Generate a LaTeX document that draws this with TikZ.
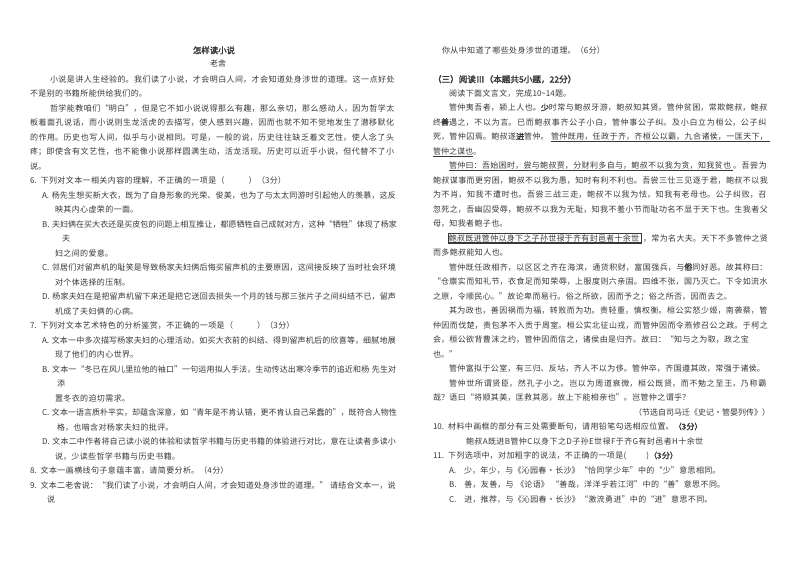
\documentclass[tikz,border=0pt]{standalone}
\usepackage{fontspec}
\setmainfont{Noto Sans CJK SC}[AutoFakeBold=2]
\XeTeXlinebreaklocale "zh"
\XeTeXlinebreakskip=0pt plus 1pt
\newcommand\lfull[4]{\pgfmathsetmacro\tw{397-#2}\node[full,text width=\tw pt] (#1) at (#2,#3) {#4};}
\newcommand\rfull[4]{\pgfmathsetmacro\tw{770-#2}\node[full,text width=\tw pt] (#1) at (#2,#3) {#4};}
\newcommand\lpart[4]{\pgfmathsetmacro\tw{397-#2}\node[part,text width=\tw pt] (#1) at (#2,#3) {#4};}
\newcommand\rpart[4]{\pgfmathsetmacro\tw{770-#2}\node[part,text width=\tw pt] (#1) at (#2,#3) {#4};}

\begin{document}
\begin{tikzpicture}[x=1pt,y=-1pt,
  every node/.style={inner sep=0pt,outer sep=0pt,anchor=base west,text=black!78,font=\fontsize{8}{9.6}\selectfont},
  full/.style={execute at begin node={\parfillskip=0pt\tolerance=10000\XeTeXlinebreakskip=0pt plus 3pt minus .1pt\relax}},
  part/.style={execute at begin node={\tolerance=10000\XeTeXlinebreakskip=.4pt\relax}},
  uline/.style={black!78,line width=.5pt},
  kbox/.style={draw=black!78,line width=.5pt,inner xsep=.8pt,inner ysep=1.3pt}]
\fill[white] (0,0) rectangle (800,565);
\useasboundingbox (0,0) rectangle (800,565);
% text one
\node[anchor=base,font=\fontsize{8.4}{10}\selectfont\bfseries] (title) at (214,53.5) {怎样读小说};
\node[anchor=base] (author) at (218,66.5) {老舍};
\lfull{L1}{50}{82}{小说是讲人生经验的。我们读了小说，才会明白人间，才会知道处身涉世的道理。这一点好处}
\lpart{L2}{30}{96.5}{不是别的书籍所能供给我们的。}
\lfull{L3}{50}{111}{哲学能教咱们“明白”，但是它不如小说说得那么有趣，那么亲切，那么感动人，因为哲学太}
\lfull{L4}{30}{125.5}{板着面孔说话，而小说则生龙活虎的去描写，使人感到兴趣，因而也就不知不觉地发生了潜移默化}
\lfull{L5}{30}{140}{的作用。历史也写人间，似乎与小说相同。可是，一般的说，历史往往缺乏着文艺性，使人念了头}
\lfull{L6}{30}{154.5}{疼；即使含有文艺性，也不能像小说那样圆满生动，活龙活现。历史可以近乎小说，但代替不了小}
\lpart{L7}{30}{169}{说。}
\lpart{L8}{30}{183.5}{6. 下列对文本一相关内容的理解，不正确的一项是（　　　）（3分）}
\lfull{L9}{42}{198}{A. 杨先生想买新大衣，既为了自身形象的光荣、俊美，也为了与太太同游时引起他人的羡慕，这反}
\lpart{L10}{55}{212.5}{映其内心虚荣的一面。}
\lfull{L11}{42}{227}{B. 夫妇俩在买大衣还是买皮包的问题上相互推让，都愿牺牲自己成就对方，这种“牺牲”体现了杨家}
\lpart{L12}{62}{241.5}{夫}
\lpart{L13}{55}{256}{妇之间的爱意。}
\lfull{L14}{42}{270.5}{C. 邻居们对留声机的耻笑是导致杨家夫妇俩后悔买留声机的主要原因，这间接反映了当时社会环境}
\lpart{L15}{55}{285}{对个体选择的压制。}
\lfull{L16}{42}{299.5}{D. 杨家夫妇在是把留声机留下来还是把它送回去损失一个月的钱与那三张片子之间纠结不已，留声}
\lpart{L17}{55}{314}{机成了夫妇俩的心病。}
\lpart{L18}{30}{328.5}{7. 下列对文本艺术特色的分析鉴赏，不正确的一项是（　　　）（3分）}
\lfull{L19}{42}{343}{A. 文本一中多次描写杨家夫妇的心理活动，如买大衣前的纠结、得到留声机后的欣喜等，细腻地展}
\lpart{L20}{55}{357.5}{现了他们的内心世界。}
\lfull{L21}{42}{372}{B. 文本一“冬已在风儿里拉他的袖口”一句运用拟人手法，生动传达出寒冷季节的追近和杨 先生对}
\lpart{L22}{57}{386.5}{添}
\lpart{L23}{55}{401}{置冬衣的迫切需求。}
\lfull{L24}{42}{415.5}{C. 文本一语言质朴平实，却蕴含深意，如“青年是不肯认错，更不肯认自己呆蠢的”，既符合人物性}
\lpart{L25}{57}{430}{格，也暗含对杨家夫妇的批评。}
\lfull{L26}{42}{444.5}{D. 文本二中作者将自己读小说的体验和读哲学书籍与历史书籍的体验进行对比，意在让读者多读小}
\lpart{L27}{55}{459}{说，少读些哲学书籍与历史书籍。}
\lpart{L28}{30}{473.5}{8. 文本一画横线句子意蕴丰富，请简要分析。（4分）}
\lfull{L29}{30}{488}{9. 文本二老舍说：“我们读了小说，才会明白人间，才会知道处身涉世的道理。” 请结合文本一，说}
\lpart{L30}{47}{502.5}{说}
% reading three
\rpart{R0}{442}{53}{你从中知道了哪些处身涉世的道理。（6分）}
\node[font=\fontsize{8.6}{10}\selectfont\bfseries] (R1) at (433,82.5) {（三）阅读Ⅲ（本题共5小题，22分）};
\rpart{R2}{449}{96}{阅读下面文言文，完成10\textasciitilde14题。}
\rfull{R3}{449}{110.5}{管仲夷吾者，颍上人也。\textbf{少}时常与鲍叔牙游，鲍叔知其贤。管仲贫困，常欺鲍叔，鲍叔}
\rfull{R4}{433}{125}{终\textbf{善}遇之，不以为言。已而鲍叔事齐公子小白，管仲事公子纠。及小白立为桓公，公子纠}
\node[full,text width=118pt] (R5a) at (433,139.5) {死，管仲囚焉。鲍叔遂\textbf{进}管仲。};
\node[full,text width=219pt] (R5b) at (551,139.5) {管仲既用，任政于齐，齐桓公以霸，九合诸侯，一匡天下，};
\node (R6a) at (433,154) {管仲之谋也};
\node (R6b) at (R6a.base east) {。};
\node[full,text width=284pt] (R7a) at (449,168.5) {管仲曰：吾始困时，尝与鲍叔贾，分财利多自与，鲍叔不以我为贪，知我贫也};
\node[full,text width=37pt] (R7b) at (733,168.5) {。吾尝为};
\rfull{R8}{433}{183}{鲍叔谋事而更穷困，鲍叔不以我为愚，知时有利不利也。吾尝三仕三见逐于君，鲍叔不以我}
\rfull{R9}{433}{197.5}{为不肖，知我不遭时也。吾尝三战三走，鲍叔不以我为怯，知我有老母也。公子纠败，召}
\rfull{R10}{433}{212}{忽死之，吾幽囚受辱，鲍叔不以我为无耻，知我不羞小节而耻功名不显于天下也。生我者父}
\rpart{R11}{433}{226.5}{母，知我者鲍子也。}
\node[full,kbox,text width=192pt] (R12a) at (448,241) {鲍叔既进管仲以身下之子孙世禄于齐有封邑者十余世};
\node[full,text width=127pt] (R12b) at (643,241) {，常为名大夫。天下不多管仲之贤};
\rpart{R13}{433}{255.5}{而多鲍叔能知人也。}
\rfull{R14}{449}{270}{管仲既任政相齐，以区区之齐在海滨，通货积财，富国强兵，与\textbf{俗}同好恶。故其称曰：}
\rfull{R15}{433}{284.5}{“仓廪实而知礼节，衣食足而知荣辱，上服度则六亲固。四维不张，国乃灭亡。下令如流水}
\rpart{R16}{433}{299}{之原，令顺民心。”故论卑而易行。俗之所欲，因而予之；俗之所否，因而去之。}
\rfull{R17}{449}{313.5}{其为政也，善因祸而为福，转败而为功。贵轻重，慎权衡。桓公实怒少姬，南袭蔡，管}
\rfull{R18}{433}{328}{仲因而伐楚，责包茅不入贡于周室。桓公实北征山戎，而管仲因而令燕修召公之政。于柯之}
\rpart{R19}{433}{342.5}{会，桓公欲背曹沫之约，管仲因而信之，诸侯由是归齐。故曰：“知与之为取，政之宝}
\rpart{R20}{433}{357}{也。”}
\rpart{R21}{449}{371.5}{管仲富拟于公室，有三归、反坫，齐人不以为侈。管仲卒，齐国遵其政，常强于诸侯。}
\rfull{R22}{449}{386}{管仲世所谓贤臣，然孔子小之。岂以为周道衰微，桓公既贤，而不勉之至王，乃称霸}
\rpart{R23}{433}{400.5}{哉？语曰“将顺其美，匡救其恶，故上下能相亲也”。岂管仲之谓乎？}
\node[anchor=base east] (R24) at (770,415) {（节选自司马迁《史记·管晏列传》）};
\rpart{R25}{433}{429.5}{10. 材料中画框的部分有三处需要断句，请用铅笔勾选相应位置。\textbf{（3分）}}
\rpart{R26}{466}{444}{鲍叔A既进B管仲C以身下之D子孙E世禄F于齐G有封邑者H十余世}
\rpart{R27}{433}{458.5}{11. 下列选项中，对加粗字的说法，不正确的一项是(\hspace{2.5em})\textbf{（3分）}}
\rpart{R28}{449}{473}{A.\hspace{1em}少，年少，与《沁园春·长沙》“恰同学少年”中的“少”意思相同。}
\rpart{R29}{449}{487.5}{B.\hspace{1em}善，友善，与 《论语》 “善哉，洋洋乎若江河”中的“善”意思不同。}
\rpart{R30}{449}{502}{C.\hspace{1em}进，推荐，与《沁园春·长沙》“激流勇进”中的“进”意思不同。}
% underlines
\draw[uline] ([yshift=-2pt]R5b.base west) -- ([yshift=-2pt]R5b.base east);
\draw[uline] ([yshift=-2pt]R6a.base west) -- ([yshift=-2pt]R6a.base east);
\draw[uline] ([yshift=-2pt]R7a.base west) -- ([yshift=-2pt]R7a.base east);
\draw[uline] ([xshift=.8pt,yshift=-1.6pt]R12a.base west) -- ([xshift=-.8pt,yshift=-1.6pt]R12a.base east);
\end{tikzpicture}
\end{document}
